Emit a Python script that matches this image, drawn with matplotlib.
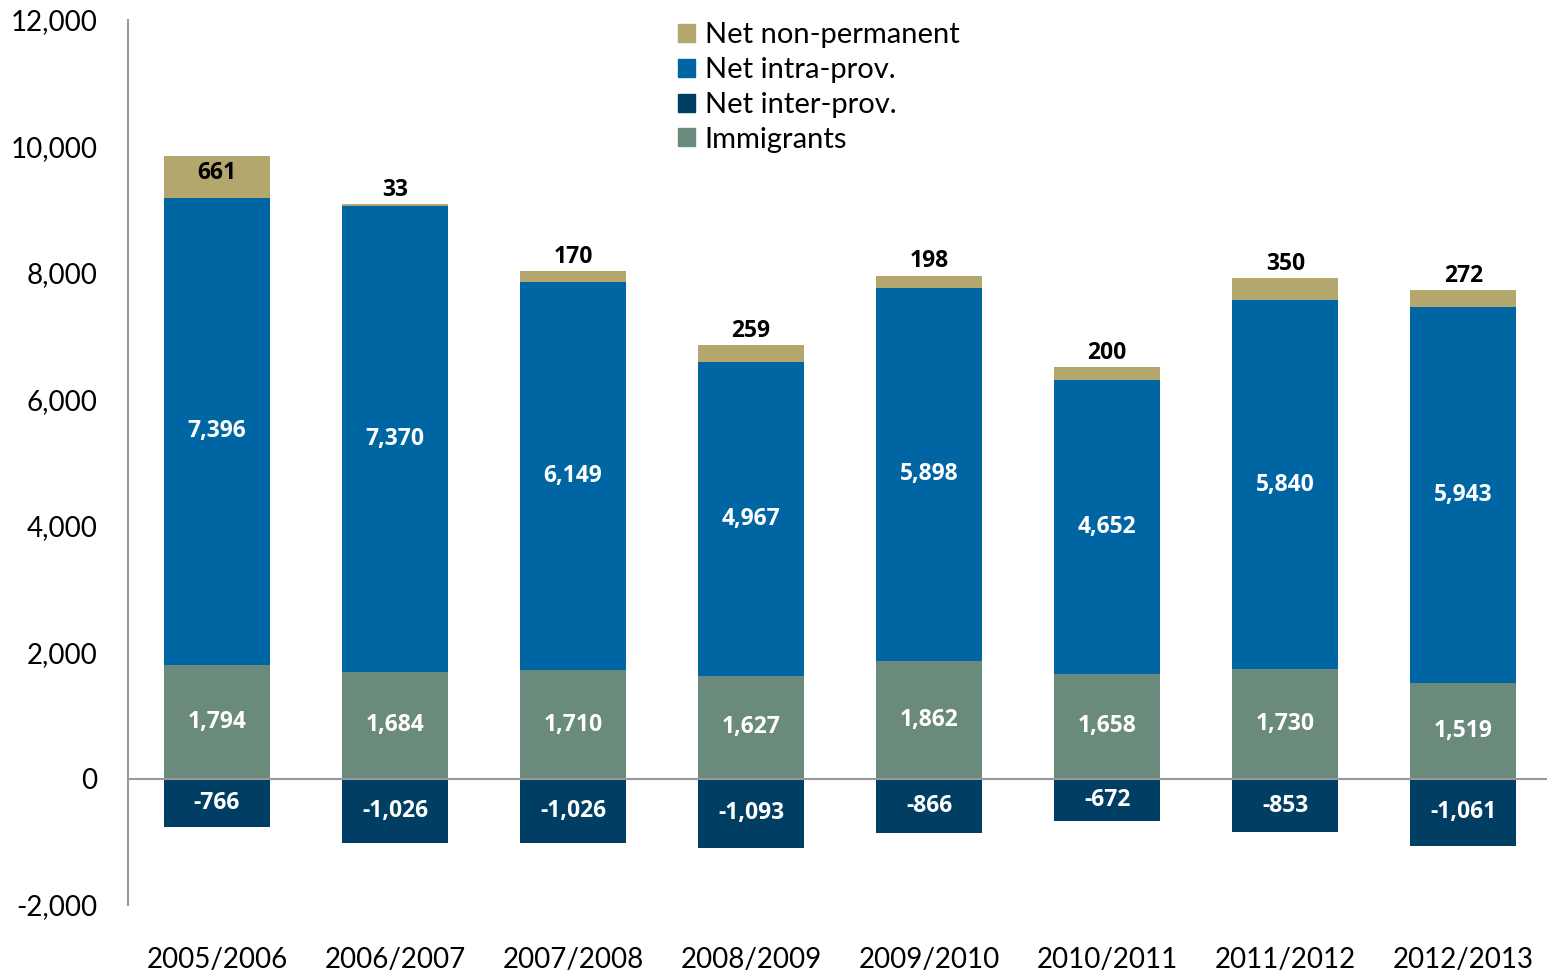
import matplotlib
matplotlib.use("Agg")
import matplotlib.pyplot as plt
import numpy as np
from matplotlib.patches import Patch

plt.rcParams['font.family'] = ['Lato', 'DejaVu Sans']

years = ["2005/2006", "2006/2007", "2007/2008", "2008/2009",
         "2009/2010", "2010/2011", "2011/2012", "2012/2013"]
immigrants = [1794, 1684, 1710, 1627, 1862, 1658, 1730, 1519]
net_intra = [7396, 7370, 6149, 4967, 5898, 4652, 5840, 5943]
net_non_permanent = [661, 33, 170, 259, 198, 200, 350, 272]
net_inter = [-766, -1026, -1026, -1093, -866, -672, -853, -1061]
y_ticks = [-2000, 0, 2000, 4000, 6000, 8000, 10000, 12000]

c_nonperm = "#B3A76E"
c_intra = "#0065A3"
c_inter = "#003F63"
c_immig = "#6A8A7C"

fig = plt.figure(figsize=(15.47, 9.73), dpi=100)
ax = fig.add_axes([0.0827, 0.0699, 0.9173, 0.9095])

x = np.arange(len(years))
w = 0.595
imm = np.array(immigrants)
intra = np.array(net_intra)
nonp = np.array(net_non_permanent)
inter = np.array(net_inter)

ax.bar(x, imm, w, color=c_immig, zorder=2)
ax.bar(x, intra, w, bottom=imm, color=c_intra, zorder=2)
ax.bar(x, nonp, w, bottom=imm + intra, color=c_nonperm, zorder=2)
ax.bar(x, inter, w, color=c_inter, zorder=2)

lab_font = ['Open Sans', 'DejaVu Sans']
lab_kw = dict(ha='center', va='center', fontsize=16.5, fontweight='bold',
              family=lab_font, zorder=4)
for i in range(len(years)):
    ax.text(x[i], imm[i] / 2, f"{imm[i]:,}", color='white', **lab_kw)
    ax.text(x[i], imm[i] + intra[i] / 2, f"{intra[i]:,}", color='white', **lab_kw)
    ax.text(x[i], inter[i] / 2, f"{inter[i]:,}", color='white', **lab_kw)
    top = imm[i] + intra[i] + nonp[i]
    if nonp[i] > 400:
        ax.text(x[i], top - nonp[i] * 0.4, f"{nonp[i]:,}", color='black', **lab_kw)
    else:
        ax.annotate(f"{nonp[i]:,}", (x[i], top), xytext=(0, 1.5),
                    textcoords='offset points', ha='center', va='bottom',
                    fontsize=16.5, fontweight='bold', family=lab_font,
                    color='black', zorder=4)

ax.axhline(0, color='#999999', lw=1.5, zorder=3)

ax.set_xlim(-0.5, 7.47)
ax.set_ylim(-2000, 12000)
ax.set_yticks(y_ticks)
ax.set_yticklabels([f"{v:,}" for v in y_ticks])
ax.set_xticks(x)
ax.set_xticklabels(years)
ax.tick_params(axis='y', length=0, pad=22, labelsize=20)
ax.tick_params(axis='x', length=0, pad=30, labelsize=20)

for s in ['top', 'right', 'bottom']:
    ax.spines[s].set_visible(False)
ax.spines['left'].set_color('#999999')
ax.spines['left'].set_linewidth(1.5)

handles = [Patch(color=c_nonperm, label="Net non-permanent"),
           Patch(color=c_intra, label="Net intra-prov."),
           Patch(color=c_inter, label="Net inter-prov."),
           Patch(color=c_immig, label="Immigrants")]
fig.legend(handles=handles, loc='upper left', bbox_to_anchor=(0.425, 0.998),
           frameon=False, fontsize=21, handlelength=0.57, handleheight=0.57,
           handletextpad=0.35, labelspacing=0.3, borderpad=0.2)

fig.savefig("out.png", dpi=100)
